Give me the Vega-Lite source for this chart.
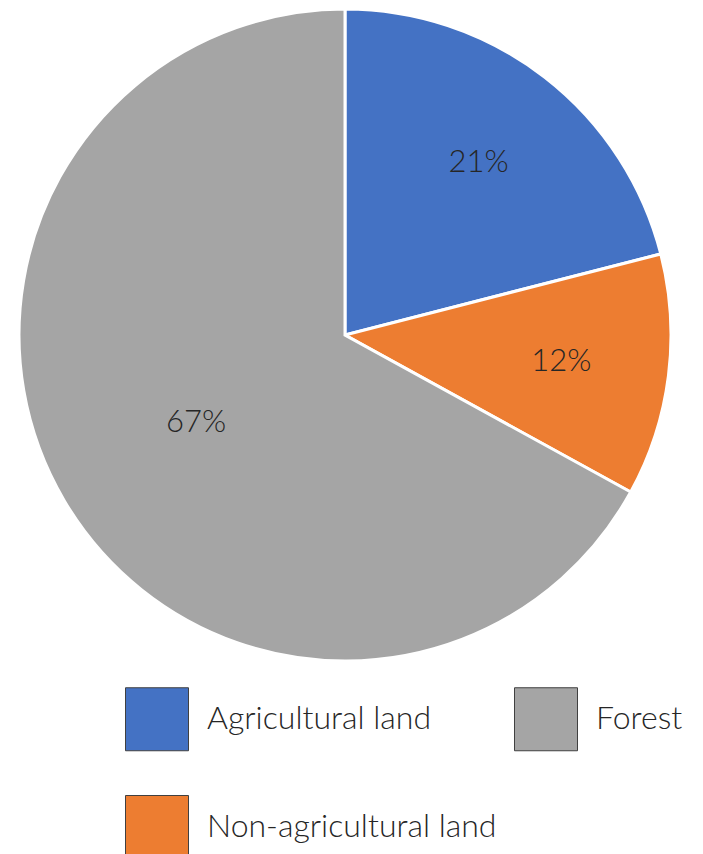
{
  "$schema": "https://vega.github.io/schema/vega-lite/v6.json",
  "width": 690,
  "height": 670,
  "padding": 0,
  "autosize": {"type": "pad"},
  "background": "white",
  "config": {"view": {"stroke": null}},
  "data": {
    "values": [
      {"category": "Agricultural land", "share": 0.21, "rank": 1},
      {"category": "Non-agricultural land", "share": 0.12, "rank": 2},
      {"category": "Forest", "share": 0.67, "rank": 3}
    ]
  },
  "encoding": {
    "theta": {"field": "share", "type": "quantitative", "stack": true},
    "order": {"field": "rank", "type": "ordinal"}
  },
  "layer": [
    {
      "mark": {"type": "arc", "outerRadius": 326, "stroke": "white", "strokeWidth": 3},
      "encoding": {
        "color": {
          "field": "category",
          "type": "nominal",
          "scale": {
            "domain": ["Agricultural land", "Forest", "Non-agricultural land"],
            "range": ["#4472C4", "#A5A5A5", "#ED7D31"]
          },
          "legend": {
            "title": null,
            "orient": "none",
            "legendX": 125,
            "legendY": 687,
            "direction": "horizontal",
            "columns": 2,
            "columnPadding": 15,
            "rowPadding": 40,
            "padding": 0,
            "symbolType": "square",
            "symbolSize": 3969,
            "symbolStrokeColor": "#404040",
            "symbolStrokeWidth": 1,
            "symbolOpacity": 1,
            "labelOffset": 18,
            "labelFont": "Lato",
            "labelFontSize": 32,
            "labelFontWeight": 300,
            "labelColor": "#262626",
            "labelLimit": 500
          }
        }
      }
    },
    {
      "mark": {"type": "text", "radius": 218, "font": "Lato", "fontSize": 31, "fontWeight": 300, "color": "#262626"},
      "encoding": {
        "text": {"field": "share", "type": "quantitative", "format": ".0%"},
        "opacity": {"condition": {"test": "datum.category !== 'Forest'", "value": 1}, "value": 0}
      }
    },
    {
      "mark": {"type": "text", "radius": 173, "font": "Lato", "fontSize": 31, "fontWeight": 300, "color": "#262626"},
      "encoding": {
        "text": {"field": "share", "type": "quantitative", "format": ".0%"},
        "opacity": {"condition": {"test": "datum.category === 'Forest'", "value": 1}, "value": 0}
      }
    }
  ]
}
